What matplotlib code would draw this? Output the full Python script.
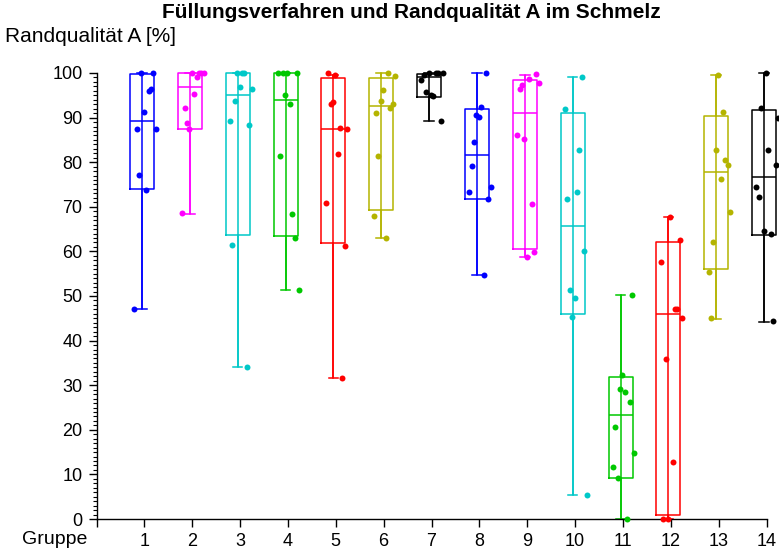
import matplotlib
matplotlib.use("Agg")
import matplotlib.pyplot as plt
import numpy as np
from matplotlib.ticker import MultipleLocator

plt.rcParams["font.family"] = ["Liberation Sans", "DejaVu Sans"]

# Randqualität A [%] je Gruppe (10 Proben pro Gruppe)
groups = list(range(1, 15))
values = [
    [100, 100, 96.5, 95.9, 91.2, 87.4, 87.4, 77.1, 73.8, 47.1],
    [100, 100, 100, 100, 99.0, 95.4, 92.2, 88.7, 87.4, 68.5],
    [100, 100, 100, 96.9, 96.4, 93.8, 89.2, 88.4, 61.4, 34.0],
    [100, 100, 100, 100, 95.1, 93.0, 81.3, 68.3, 62.9, 51.3],
    [100, 99.5, 93.6, 93.0, 87.7, 87.4, 81.8, 70.9, 61.1, 31.6],
    [100, 99.3, 96.1, 93.7, 93.0, 92.2, 91.1, 81.3, 68.0, 62.9],
    [100, 100, 100, 100, 99.6, 98.4, 95.8, 95.1, 94.8, 89.2],
    [100, 92.4, 90.6, 90.1, 84.5, 79.1, 74.4, 73.4, 71.7, 54.8],
    [99.8, 98.6, 97.8, 97.2, 96.5, 86.1, 85.3, 70.6, 59.8, 58.7],
    [99.0, 91.9, 82.7, 73.3, 71.7, 60.0, 51.3, 49.5, 45.4, 5.4],
    [50.3, 32.2, 29.1, 28.5, 26.2, 20.6, 14.8, 11.6, 9.2, 0],
    [67.7, 62.5, 57.7, 47.1, 47.1, 45.0, 35.9, 12.8, 0, 0],
    [99.6, 91.3, 82.7, 80.5, 79.4, 76.2, 68.8, 62.0, 55.3, 45.0],
    [100, 92.2, 89.8, 82.7, 79.4, 74.4, 72.3, 64.6, 63.8, 44.4],
]
# Reihenfolge der Punkte in der Streuung (Slot 0..9 von links nach rechts)
slots = [
    [3, 8, 7, 6, 4, 1, 9, 2, 5, 0],
    [4, 7, 8, 9, 6, 5, 1, 2, 3, 0],
    [3, 5, 6, 4, 9, 2, 0, 8, 1, 7],
    [0, 2, 4, 8, 3, 5, 1, 6, 7, 9],
    [1, 4, 3, 2, 6, 9, 5, 0, 8, 7],
    [6, 9, 4, 3, 8, 7, 1, 2, 0, 5],
    [3, 6, 7, 9, 1, 0, 2, 4, 5, 8],
    [7, 5, 3, 4, 2, 1, 9, 0, 8, 6],
    [8, 5, 9, 2, 1, 0, 3, 6, 7, 4],
    [7, 0, 6, 5, 1, 8, 2, 4, 3, 9],
    [8, 4, 3, 5, 7, 1, 9, 0, 2, 6],
    [4, 8, 0, 6, 7, 9, 2, 5, 1, 3],
    [4, 6, 3, 7, 8, 5, 9, 2, 0, 1],
    [4, 2, 9, 5, 8, 0, 1, 3, 6, 7],
]
# Boxplot-Kennwerte wie im Original
q1 = [74.1, 87.4, 63.7, 63.4, 61.8, 69.2, 94.7, 71.7, 60.5, 45.9, 9.3, 0.8, 56.0, 63.7]
med = [89.2, 96.9, 95.0, 93.9, 87.4, 92.6, 99.0, 81.7, 91.0, 65.8, 23.3, 45.9, 77.7, 76.6]
q3 = [99.7, 99.9, 99.9, 99.9, 98.9, 98.9, 99.8, 92.0, 98.4, 91.0, 31.8, 62.0, 90.4, 91.8]
wlo = [47.1, 68.4, 34.0, 51.3, 31.6, 62.9, 89.2, 54.7, 58.7, 5.4, 0, 0, 44.8, 44.2]
whi = [100, 100, 100, 100, 99.6, 99.9, 100, 99.9, 99.6, 99.0, 50.2, 67.7, 99.6, 100]

palette = ["#0000ff", "#ff00ff", "#00c8c8", "#00c800", "#ff0000", "#b4b400", "#000000"]

fig = plt.figure(figsize=(7.79, 5.52), dpi=100)
ax = fig.add_axes([96.5 / 779, 33 / 552, 670 / 779, 446 / 552])

for i, g in enumerate(groups):
    c = palette[i % len(palette)]
    ax.vlines(g - 0.05, wlo[i], whi[i], color=c, lw=1.1, clip_on=False, zorder=2)
    stats = [dict(med=med[i], q1=q1[i], q3=q3[i], whislo=wlo[i], whishi=whi[i], fliers=[])]
    ax.bxp(stats, positions=[g - 0.05], widths=0.5, capwidths=0.2, manage_ticks=False,
           boxprops=dict(color=c, lw=1.1), medianprops=dict(color=c, lw=1.1),
           whiskerprops=dict(color=c, lw=1.1), capprops=dict(color=c, lw=1.1))
    xs = g - 0.21 + 0.05 * np.array(slots[i])
    ax.plot(xs, values[i], "o", color=c, ms=4.3, mec="none", clip_on=False, zorder=3)

for art in ax.lines + ax.collections:
    art.set_clip_on(False)

ax.set_xlim(0, 14)
ax.set_ylim(0, 100)
ax.set_xticks(range(0, 15))
ax.set_xticklabels([""] + [str(g) for g in groups])
ax.yaxis.set_major_locator(MultipleLocator(10))
ax.yaxis.set_minor_locator(MultipleLocator(1))
ax.spines["top"].set_visible(False)
ax.spines["right"].set_visible(False)
for s in ("left", "bottom"):
    ax.spines[s].set_linewidth(1.0)
ax.tick_params(axis="both", which="major", length=6, width=1.0, labelsize=13, pad=4)
ax.tick_params(axis="y", which="minor", length=3, width=0.8)

ax.text(-0.2, -0.045, "Gruppe", transform=ax.get_xaxis_transform(), ha="right", va="center",
        fontsize=14)
fig.text(411 / 779, 1 - 12 / 552, "Füllungsverfahren und Randqualität A im Schmelz",
         ha="center", va="center", fontsize=15, fontweight="bold")
fig.text(5 / 779, 1 - 37 / 552, "Randqualität A [%]", ha="left", va="center", fontsize=15)

fig.savefig("out.png", dpi=100)
